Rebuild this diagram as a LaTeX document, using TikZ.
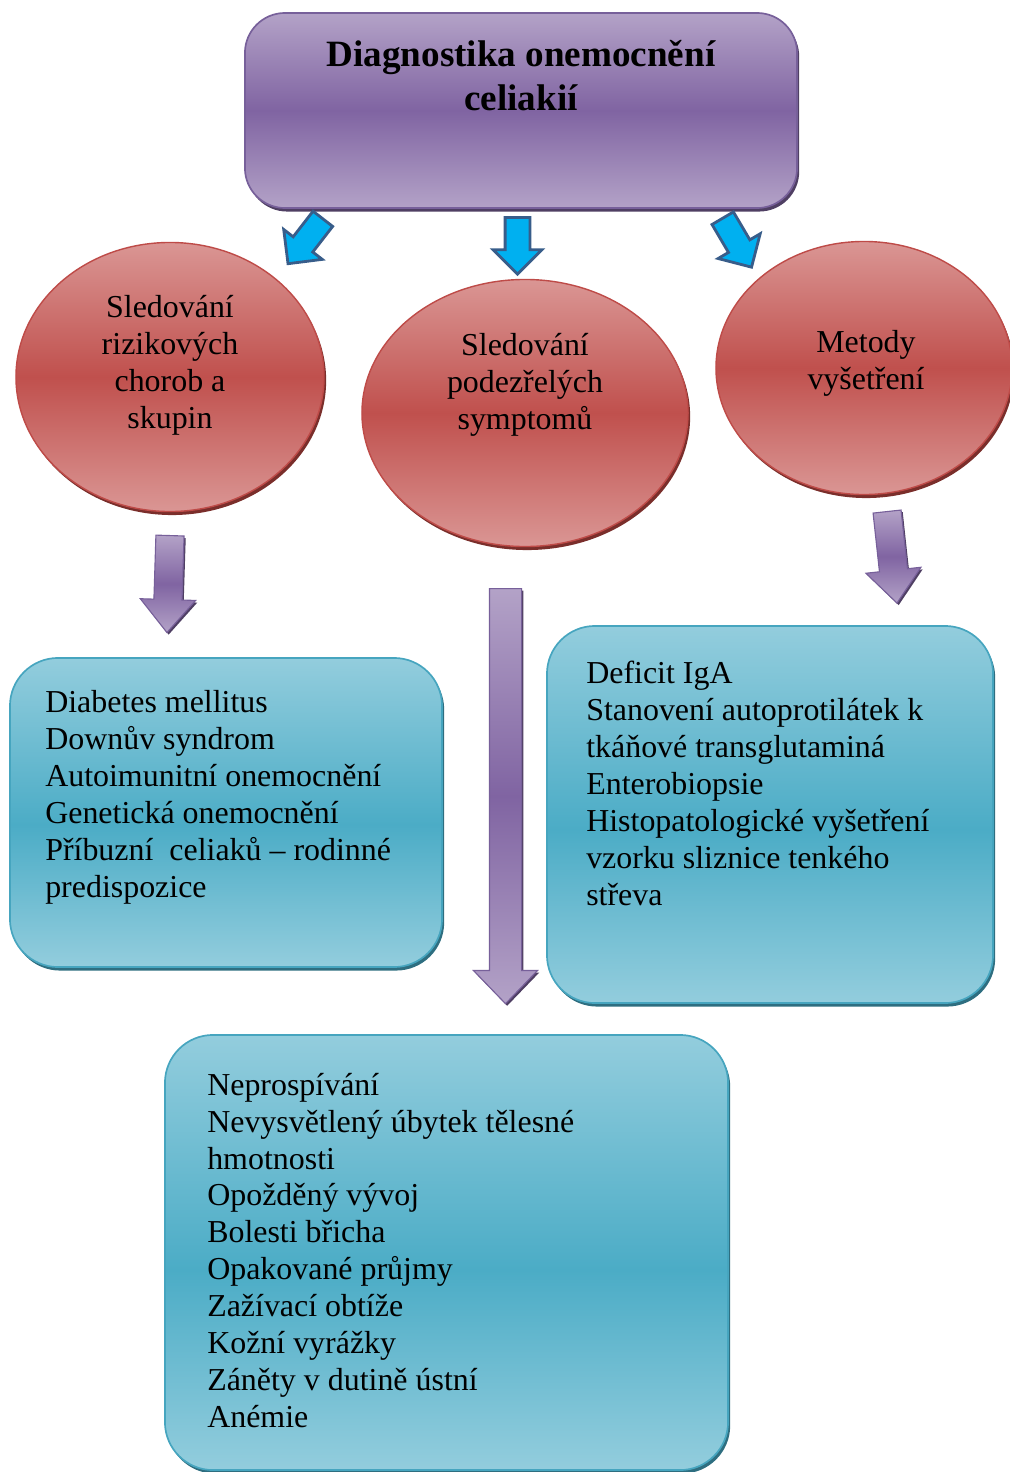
\documentclass[tikz,border=0pt]{standalone}
\usepackage{fontspec}
\setmainfont{Liberation Serif}
\usetikzlibrary{shapes.geometric, shapes.arrows, shadows}
\definecolor{DiagPurpleLight}{HTML}{B3A2C7}
\definecolor{DiagPurple}{HTML}{8064A2}
\definecolor{DiagPurpleEdge}{HTML}{77609A}
\definecolor{DiagPurpleShadow}{HTML}{4F3F63}
\definecolor{DiagRedLight}{HTML}{DA9694}
\definecolor{DiagRed}{HTML}{C0504D}
\definecolor{DiagRedEdge}{HTML}{BE4B48}
\definecolor{DiagRedShadow}{HTML}{7A2E2B}
\definecolor{DiagCyanLight}{HTML}{93CDDD}
\definecolor{DiagCyan}{HTML}{4BACC6}
\definecolor{DiagCyanEdge}{HTML}{46A5BF}
\definecolor{DiagCyanShadow}{HTML}{2E6E80}
\definecolor{DiagBlue}{HTML}{00B0F0}
\definecolor{DiagBlueEdge}{HTML}{385D8A}
\pgfdeclareverticalshading{purplevert}{100bp}{color(0bp)=(DiagPurpleLight); color(25bp)=(DiagPurpleLight); color(50bp)=(DiagPurple); color(75bp)=(DiagPurpleLight); color(100bp)=(DiagPurpleLight)}
\pgfdeclareverticalshading{redvert}{100bp}{color(0bp)=(DiagRedLight); color(25bp)=(DiagRedLight); color(50bp)=(DiagRed); color(75bp)=(DiagRedLight); color(100bp)=(DiagRedLight)}
\pgfdeclareverticalshading{cyanvert}{100bp}{color(0bp)=(DiagCyanLight); color(25bp)=(DiagCyanLight); color(48bp)=(DiagCyan); color(75bp)=(DiagCyanLight); color(100bp)=(DiagCyanLight)}
\newcommand{\bodysize}{\fontsize{22.7}{26.2}\selectfont}
\newcommand{\titlesize}{\fontsize{26.4}{31.3}\selectfont\bfseries}

\begin{document}
\begin{tikzpicture}[x=0.025cm, y=-0.025cm,
    titlebox/.style={draw=DiagPurpleEdge, line width=1.2pt, rounded corners=1cm, shade, shading=purplevert, drop shadow={shadow xshift=1.5pt, shadow yshift=-2.5pt, fill=DiagPurpleShadow, opacity=1}},
    oval/.style={ellipse, draw=DiagRedEdge, line width=1pt, inner sep=0pt, shade, shading=redvert, drop shadow={shadow xshift=1.5pt, shadow yshift=-2.5pt, fill=DiagRedShadow, opacity=1}},
    listbox/.style={draw=DiagCyanEdge, line width=1.2pt, rounded corners=1.2cm, shade, shading=cyanvert, drop shadow={shadow xshift=1.5pt, shadow yshift=-2.5pt, fill=DiagCyanShadow, opacity=1}},
    bluearrow/.style={single arrow, draw=DiagBlueEdge, fill=DiagBlue, line width=2pt, inner xsep=0pt, inner ysep=0.275cm, minimum width=1.15cm, single arrow head extend=0.3cm, minimum height=1.42cm, anchor=tail},
    downarrow/.style={single arrow, draw=DiagPurpleEdge, line width=0.8pt, shade, shading=purplevert, inner xsep=0pt, inner ysep=0.3375cm, minimum width=1.35cm, single arrow head extend=0.34cm, single arrow tip angle=80, anchor=tail, drop shadow={shadow xshift=1.2pt, shadow yshift=-1.5pt, fill=DiagPurpleShadow, opacity=1}},
    titletext/.style={font=\titlesize, align=center, anchor=base, inner sep=0pt},
    ovaltext/.style={font=\bodysize, align=center, anchor=base, inner sep=0pt},
    listtext/.style={font=\bodysize, align=left, anchor=base west, inner sep=0pt}
  ]
  \useasboundingbox (0,0) rectangle (1009,1472);

  % Title
  \node[titlebox, minimum width=13.8cm, minimum height=4.875cm] (diag) at (521,110.5) {};
  \node[titletext] (diagText) at (521,111) {Diagnostika onemocnění\\celiakií};

  % Blue arrows from the title
  \node[bluearrow, rotate=-127.8] (sipkaL) at (323.7,217.7) {};
  \node[bluearrow, rotate=-90] (sipkaM) at (517.5,216) {};
  \node[bluearrow, rotate=-59.5] (sipkaR) at (722,217) {};

  % Three branches
  \node[oval, minimum width=7.7cm, minimum height=6.725cm] (rizika) at (170,377) {};
  \node[ovaltext] (rizikaText) at (170,428.4) {Sledování\\rizikových\\chorob a\\skupin};
  \node[oval, minimum width=8.15cm, minimum height=6.675cm] (symptomy) at (525,413) {};
  \node[ovaltext] (symptomyText) at (525,429.6) {Sledování\\podezřelých\\symptomů};
  \node[oval, minimum width=7.4cm, minimum height=6.325cm] (metody) at (864,368) {};
  \node[ovaltext] (metodyText) at (866,389) {Metody\\vyšetření};

  % Purple arrows down
  \node[downarrow, rotate=-91.8, minimum height=2.425cm] (doluL) at (170,535) {};
  \node[downarrow, rotate=-90, minimum height=10.375cm, inner ysep=0.3875cm, minimum width=1.575cm, single arrow head extend=0.4cm, single arrow tip angle=88] (doluM) at (505.5,588) {};
  \node[downarrow, rotate=-83.8, minimum height=2.3cm] (doluR) at (887,511) {};

  % Lists
  \node[listbox, minimum width=10.8cm, minimum height=7.725cm] (skupiny) at (226,812.5) {};
  \node[listtext] (skupinyText) at (45,897) {Diabetes mellitus\\Downův syndrom\\Autoimunitní onemocnění\\Genetická onemocnění\\Příbuzní\ \ celiaků -- rodinné\\predispozice};
  \node[listbox, minimum width=11.15cm, minimum height=9.425cm] (vysetreni) at (770,814.5) {};
  \node[listtext] (vysetreniText) at (586,905) {Deficit IgA\\Stanovení autoprotilátek k\\tkáňové transglutaminá\\Enterobiopsie\\Histopatologické vyšetření\\vzorku sliznice tenkého\\střeva};
  \node[listbox, minimum width=14.075cm, minimum height=10.875cm] (priznaky) at (446.5,1252.5) {};
  \node[listtext] (priznakyText) at (207,1427) {Neprospívání\\Nevysvětlený úbytek tělesné\\hmotnosti\\Opožděný vývoj\\Bolesti břicha\\Opakované průjmy\\Zažívací obtíže\\Kožní vyrážky\\Záněty v dutině ústní\\Anémie};
\end{tikzpicture}
\end{document}
